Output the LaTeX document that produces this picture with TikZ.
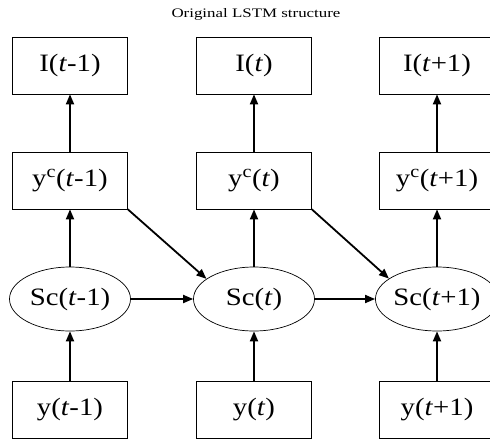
\documentclass[tikz,border=0pt]{standalone}
\usepackage{fontspec}
\setmainfont{Liberation Serif}
\usetikzlibrary{arrows.meta,positioning,shapes.geometric}
\newcommand{\wide}[1]{\scalebox{1.15}[1]{#1}}

\begin{document}
\begin{tikzpicture}[x=1pt, y=1pt, every node/.style={font=\fontsize{25}{29}\selectfont},
  box/.style={draw, line width=0.7pt, minimum width=115pt, minimum height=57pt, inner sep=0pt},
  cell/.style={draw, ellipse, line width=0.7pt, minimum width=121pt, minimum height=64pt, inner sep=0pt},
  arr/.style={-{Triangle[length=10pt,width=8pt]}, line width=1.8pt}]
\useasboundingbox (0,0) rectangle (490,-439);
\clip (0,0) rectangle (490,-439);
\node[font=\fontsize{13}{15}\selectfont] (title) at (256,-14) {\scalebox{1.3}[1]{Original LSTM structure}};
% column t-1
\node[box] (i1) at (70,-65.5) {\wide{I(\textit{t}-1)}};
\node[box] (yc1) at (70,-180.5) {\wide{y\textsuperscript{c}(\textit{t}-1)}};
\node[cell] (sc1) at (70,-299) {\wide{Sc(\textit{t}-1)}};
\node[box] (y1) at (70,-410) {\wide{y(\textit{t}-1)}};
% column t
\node[box] (i2) at (254,-65.5) {\wide{I(\textit{t})}};
\node[box] (yc2) at (254,-180.5) {\wide{y\textsuperscript{c}(\textit{t})}};
\node[cell] (sc2) at (254,-299) {\wide{Sc(\textit{t})}};
\node[box] (y2) at (254,-410) {\wide{y(\textit{t})}};
% column t+1
\node[box] (i3) at (437,-65.5) {\wide{I(\textit{t}+1)}};
\node[box] (yc3) at (437,-180.5) {\wide{y\textsuperscript{c}(\textit{t}+1)}};
\node[cell] (sc3) at (437,-299) {\wide{Sc(\textit{t}+1)}};
\node[box] (y3) at (437,-410) {\wide{y(\textit{t}+1)}};
% connections
\foreach \k in {1,2,3} {
  \draw[arr] (y\k) -- (sc\k);
  \draw[arr] (sc\k) -- (yc\k);
  \draw[arr] (yc\k) -- (i\k);
}
\draw[arr] (sc1) -- (sc2);
\draw[arr] (sc2) -- (sc3);
\draw[arr] (yc1.south east) -- (sc2.157);
\draw[arr] (yc2.south east) -- (sc3.157);
\end{tikzpicture}
\end{document}
